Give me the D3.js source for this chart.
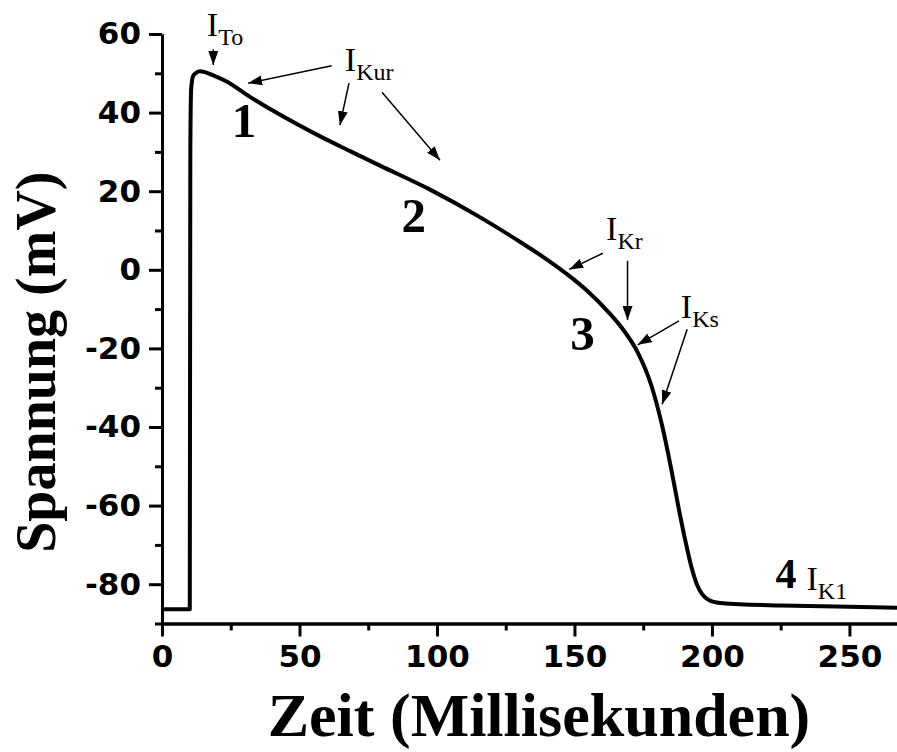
<!DOCTYPE html>
<html>
<head>
<meta charset="utf-8">
<script src="https://cdn.jsdelivr.net/npm/d3@7/dist/d3.min.js"></script>
<style>
  html, body { margin: 0; padding: 0; background: #fff; }
  svg { display: block; }
</style>
</head>
<body>
<svg id="chart" width="897" height="752"></svg>
<script>
// Action potential trace: time (ms) and membrane voltage (mV)
const timeMs = [0, 10.1, 10.3, 10.6, 11.3, 12.4, 13.8, 15.6, 18.2, 23.5, 32, 44.1, 56.3, 68.4, 79.3,
  97.5, 115.6, 130, 140, 148, 155, 162, 168, 173, 178, 182, 185, 188, 190.5, 192.5, 194.5,
  196.5, 199, 203, 210, 225, 245, 267.3];
const voltageMv = [-86.4, -86.4, 30, 46, 49.3, 50.1, 50.5, 50.3, 49.6, 47.9, 44.0, 39.0, 34.4, 30.2, 26.5,
  20.4, 13.4, 7.2, 2.6, -1.5, -5.6, -10.5, -15.5, -21, -29.5, -40, -50, -61, -69.5, -75.5, -80,
  -82.6, -84.1, -84.8, -85.1, -85.4, -85.7, -86.0];

// Axis ticks
const xMajorTicks = [0, 50, 100, 150, 200, 250];
const xMinorTicks = [25, 75, 125, 175, 225];
const yMajorTicks = [-80, -60, -40, -20, 0, 20, 40, 60];
const yMinorTicks = [-90, -70, -50, -30, -10, 10, 30, 50];

// Axis titles
const xTitle = "Zeit (Millisekunden)";
const yTitle = "Spannung (mV)";

// Phase numbers (t, V)
const phaseLabels = ["1", "2", "3", "4"];
const phaseT = [29.8, 91.6, 152.9, 226.9];
const phaseV = [33.8, 9.7, -20.4, -81.0];

// Ion current labels: subscript, anchor (t, V)
const currentSubs = ["To", "Kur", "Kr", "Ks", "K1"];
const currentT = [16.3, 66.5, 161.5, 188.7, 234.4];
const currentV = [59.5, 50.7, 7.6, -12.3, -81.5];

// Arrows from each label toward the trace: [t0, V0, t1, V1]
const arrows = [
  [18.65, 56.1, 18.65, 52.1],
  [61.7, 51.9, 31.3, 47.5],
  [68.0, 47.5, 64.7, 36.8],
  [80.0, 45.2, 101.1, 27.9],
  [160.3, 4.2, 148.1, 0.1],
  [169.3, 2.3, 169.3, -12.8],
  [188.0, -13.0, 173.0, -19.1],
  [191.0, -15.1, 181.9, -34.2]
];

const svg = d3.select("#chart");
const x = d3.scaleLinear().domain([0, 267.3]).range([162, 897]);
const y = d3.scaleLinear().domain([-90, 60]).range([623.5, 34]);

const sans = "'DejaVu Sans', Verdana, sans-serif";
const serif = "'Liberation Serif', 'Times New Roman', serif";
const plain = d => String(d);   // ASCII hyphen for negative labels

// Axes
function styleAxis(g) {
  g.selectAll("path.domain").attr("stroke", "#000").attr("stroke-width", 3);
  g.selectAll(".tick line").attr("stroke", "#000").attr("stroke-width", 3);
  g.selectAll(".tick text")
    .attr("fill", "#000")
    .style("font-family", sans)
    .style("font-weight", "bold")
    .style("font-size", "31px");
}

svg.append("g")
  .attr("transform", `translate(0,${y(-90)})`)
  .call(d3.axisBottom(x).tickValues(xMinorTicks).tickSize(7).tickSizeOuter(0).tickFormat(""))
  .call(styleAxis);
svg.append("g")
  .attr("transform", `translate(0,${y(-90)})`)
  .call(d3.axisBottom(x).tickValues(xMajorTicks).tickSize(13).tickSizeOuter(0).tickPadding(8).tickFormat(plain))
  .call(styleAxis);

svg.append("g")
  .attr("transform", `translate(${x(0)},0)`)
  .call(d3.axisLeft(y).tickValues(yMinorTicks).tickSize(7).tickSizeOuter(0).tickFormat(""))
  .call(styleAxis);
svg.append("g")
  .attr("transform", `translate(${x(0)},0)`)
  .call(d3.axisLeft(y).tickValues(yMajorTicks).tickSize(13).tickSizeOuter(0).tickPadding(8).tickFormat(plain))
  .call(styleAxis);

// Axis titles
svg.append("text")
  .attr("x", 539).attr("y", 736)
  .attr("text-anchor", "middle")
  .style("font-family", serif).style("font-weight", "bold").style("font-size", "62px")
  .text(xTitle);

svg.append("text")
  .attr("transform", `translate(55,${y(-23.5)}) rotate(-90)`)
  .attr("text-anchor", "middle")
  .style("font-family", serif).style("font-weight", "bold").style("font-size", "56px")
  .text(yTitle);

// Trace
const line = d3.line()
  .x((d, i) => x(timeMs[i]))
  .y((d, i) => y(voltageMv[i]))
  .curve(d3.curveMonotoneX);

svg.append("path")
  .datum(timeMs)
  .attr("d", line)
  .attr("fill", "none")
  .attr("stroke", "#000")
  .attr("stroke-width", 4)
  .attr("stroke-linejoin", "round");

// Arrowheads
svg.append("defs").append("marker")
  .attr("id", "head")
  .attr("markerUnits", "userSpaceOnUse")
  .attr("viewBox", "0 0 14 10")
  .attr("refX", 14).attr("refY", 5)
  .attr("markerWidth", 14).attr("markerHeight", 10)
  .attr("orient", "auto")
  .append("path")
  .attr("d", "M0,0 L14,5 L0,10 Z")
  .attr("fill", "#000");

svg.append("g").selectAll("line")
  .data(arrows)
  .join("line")
  .attr("x1", d => x(d[0])).attr("y1", d => y(d[1]))
  .attr("x2", d => x(d[2])).attr("y2", d => y(d[3]))
  .attr("stroke", "#000")
  .attr("stroke-width", 1.5)
  .attr("marker-end", "url(#head)");

// Phase numbers
svg.append("g").selectAll("text")
  .data(phaseLabels)
  .join("text")
  .attr("x", (d, i) => x(phaseT[i]))
  .attr("y", (d, i) => y(phaseV[i]))
  .attr("text-anchor", "middle")
  .style("font-family", serif).style("font-weight", "bold")
  .style("font-size", (d, i) => i === 3 ? "42px" : "49px")
  .text(d => d);

// Ion current labels
const cur = svg.append("g").selectAll("text")
  .data(currentSubs)
  .join("text")
  .attr("x", (d, i) => x(currentT[i]))
  .attr("y", (d, i) => y(currentV[i]))
  .style("font-family", serif)
  .style("font-size", "34px");
cur.append("tspan").text("I");
cur.append("tspan")
  .attr("dy", 9)
  .style("font-size", "24px")
  .text(d => d);
</script>
</body>
</html>
